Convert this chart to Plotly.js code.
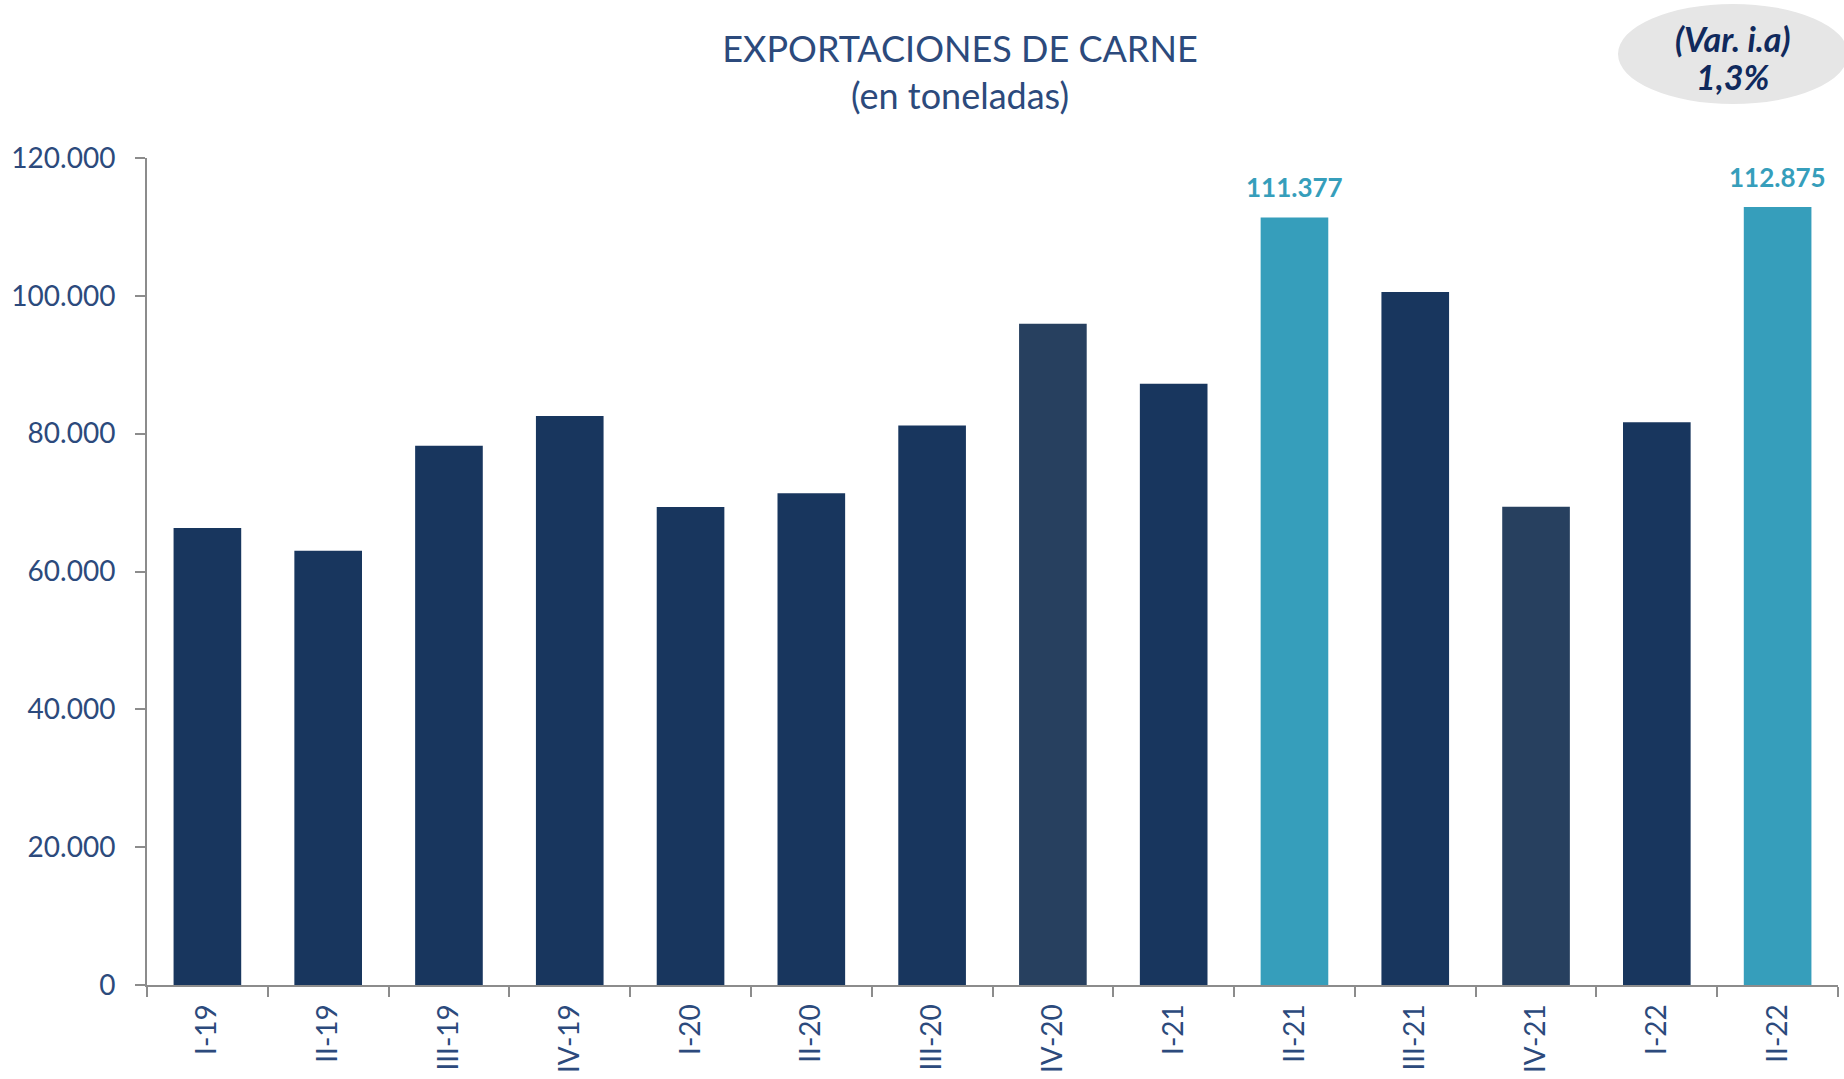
<!DOCTYPE html>
<html>
<head>
<meta charset="utf-8">
<script src="https://cdn.plot.ly/plotly-3.0.1.min.js"></script>
<style>
  html, body { margin: 0; padding: 0; background: #ffffff; }
  #chart { width: 1844px; height: 1079px; }
</style>
</head>
<body>
<div id="chart"></div>
<script>
// ---- data ----
const categories = ["I-19", "II-19", "III-19", "IV-19", "I-20", "II-20", "III-20", "IV-20",
                    "I-21", "II-21", "III-21", "IV-21", "I-22", "II-22"];
const exportsTons = [66300, 63000, 78250, 82550, 69350, 71350, 81200, 95950,
                     87250, 111377, 100550, 69400, 81650, 112875];
const highlighted = ["II-21", "II-22"];
const quarterFour = ["IV-20", "IV-21"];
const titleText = "EXPORTACIONES DE CARNE";
const subtitleText = "(en toneladas)";
const varLabel = "(Var. i.a)";
const varValue = "1,3%";

// ---- styles ----
const NAVY = "#18365e";
const NAVY_Q4 = "#27405f";
const TEAL = "#369ebb";
const TEXT_BLUE = "#2c4a7c";
const AXIS_GRAY = "#8c8c8c";
const FONT = "Lato, 'Open Sans', sans-serif";

const barColors = categories.map(c =>
  highlighted.includes(c) ? TEAL : (quarterFour.includes(c) ? NAVY_Q4 : NAVY));

function fmtThousands(v) {
  return String(Math.round(v)).replace(/\B(?=(\d{3})+(?!\d))/g, ".");
}

const labelAnnotations = categories
  .map((c, i) => ({ c, v: exportsTons[i] }))
  .filter(d => highlighted.includes(d.c))
  .map(d => ({
    x: d.c, y: d.v, xref: "x", yref: "y",
    text: fmtThousands(d.v),
    showarrow: false, yanchor: "bottom", yshift: 12,
    font: { family: FONT, size: 26, color: TEAL, weight: 700 }
  }));

const trace = {
  type: "bar",
  x: categories,
  y: exportsTons,
  marker: { color: barColors, line: { width: 0 } },
  hoverinfo: "x+y"
};

const ovalFont = { family: FONT, size: 34, color: "#10295c" };

const layout = {
  width: 1844, height: 1079,
  paper_bgcolor: "#ffffff", plot_bgcolor: "#ffffff",
  margin: { l: 147, r: 6, t: 158, b: 94 },
  separators: ",.",
  bargap: 0.44,
  showlegend: false,
  font: { family: FONT, color: TEXT_BLUE },
  title: {
    text: titleText + "<br>" + subtitleText,
    font: { family: FONT, size: 36, color: TEXT_BLUE },
    xref: "container", x: 960 / 1844, xanchor: "center",
    yref: "container", y: 1 - 62 / 1079, yanchor: "middle"
  },
  xaxis: {
    type: "category",
    range: [-0.5, categories.length - 0.5],
    showline: true, linecolor: AXIS_GRAY, linewidth: 2,
    ticks: "outside", tickson: "boundaries", ticklen: 10, tickwidth: 2, tickcolor: AXIS_GRAY,
    tickangle: -90,
    tickfont: { family: FONT, size: 28, color: TEXT_BLUE },
    ticklabelstandoff: 6,
    showgrid: false, zeroline: false, fixedrange: true
  },
  yaxis: {
    range: [0, 120000], dtick: 20000, tick0: 0,
    tickformat: ",d",
    showline: true, linecolor: AXIS_GRAY, linewidth: 2,
    ticks: "outside", ticklen: 10, tickwidth: 2, tickcolor: AXIS_GRAY,
    tickfont: { family: FONT, size: 28, color: TEXT_BLUE },
    ticklabelstandoff: 14,
    showgrid: false, zeroline: false, fixedrange: true
  },
  shapes: [{
    type: "circle", xref: "paper", yref: "paper",
    x0: 0.8699, x1: 1.0059, y0: 1.0653, y1: 1.1862,
    fillcolor: "#e6e6e6", line: { width: 0 }, layer: "below"
  }],
  annotations: labelAnnotations.concat([
    {
      xref: "paper", yref: "paper", x: 0.9379, y: 1.1451,
      xanchor: "center", yanchor: "middle",
      text: "<b><i>" + varLabel + "</i></b>",
      showarrow: false, font: ovalFont
    },
    {
      xref: "paper", yref: "paper", x: 0.9379, y: 1.0991,
      xanchor: "center", yanchor: "middle",
      text: "<b><i>" + varValue + "</i></b>",
      showarrow: false, font: ovalFont
    }
  ])
};

Plotly.newPlot("chart", [trace], layout, { displayModeBar: false, staticPlot: true });
</script>
</body>
</html>
